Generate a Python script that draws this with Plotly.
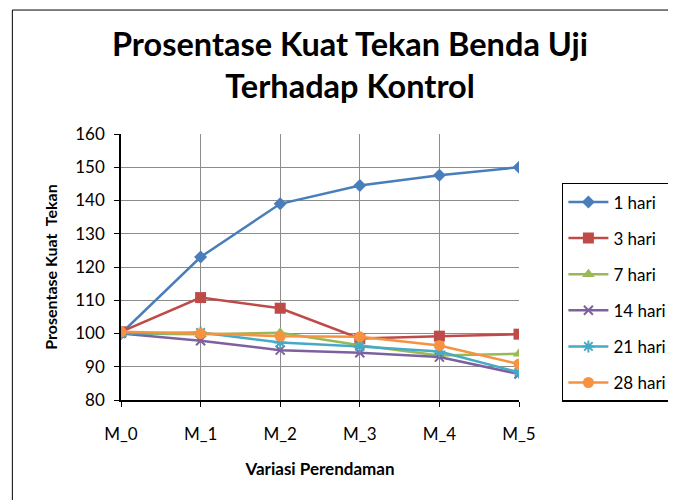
import plotly.graph_objects as go

categories = ["M_0", "M_1", "M_2", "M_3", "M_4", "M_5"]
series_names = ["1 hari", "3 hari", "7 hari", "14 hari", "21 hari", "28 hari"]
hari_1 = [100.0, 123.0, 139.0, 144.5, 147.6, 150.0]
hari_3 = [100.5, 110.8, 107.6, 98.5, 99.2, 99.8]
hari_7 = [100.0, 99.8, 100.2, 96.5, 93.4, 93.9]
hari_14 = [100.0, 97.8, 95.0, 94.2, 92.9, 87.8]
hari_21 = [100.0, 100.3, 97.3, 96.1, 94.6, 88.3]
hari_28 = [100.5, 100.0, 99.2, 99.0, 96.4, 90.8]
y_ticks = [80, 90, 100, 110, 120, 130, 140, 150, 160]

values = [hari_1, hari_3, hari_7, hari_14, hari_21, hari_28]
colors = ["#4A7EBB", "#BE4B48", "#98B954", "#7D60A0", "#46AAC5", "#F69240"]
symbols = ["diamond", "square", "triangle-up", "x-thin-open", "asterisk-open", "circle"]
sizes = [10, 11, 11, 9, 10, 11]

fig = go.Figure()
for i, (name, vals) in enumerate(zip(series_names, values)):
    fig.add_trace(go.Scatter(
        x=list(range(len(categories))), y=vals, name=name, mode="lines+markers",
        legendgroup=name,
        line=dict(color=colors[i], width=2.5),
        marker=dict(symbol=symbols[i], size=sizes[i], color=colors[i],
                    line=dict(color=colors[i], width=2 if i in (3, 4) else 0)),
    ))

font_family = "Lato, 'Open Sans', sans-serif"
fig.update_layout(
    width=676, height=500,
    margin=dict(l=113, r=164, t=126, b=108),
    paper_bgcolor="white", plot_bgcolor="white",
    font=dict(family=font_family, color="black", size=17),
    title=dict(text="<b>Prosentase Kuat Tekan Benda Uji<br>Terhadap Kontrol</b>",
               x=0.506, xanchor="center", y=0.904, yanchor="middle",
               font=dict(size=32.5, family=font_family)),
    xaxis=dict(tickmode="array", tickvals=list(range(len(categories))), ticktext=categories,
               range=[0, 5], showgrid=True, gridcolor="#8c8c8c", gridwidth=1,
               showline=True, linecolor="black", linewidth=1.5,
               ticks="outside", ticklen=5, tickcolor="black", zeroline=False,
               ticklabelstandoff=13,
               title=dict(text="<b>Variasi Perendaman</b>", font=dict(size=17), standoff=20)),
    yaxis=dict(tickvals=y_ticks, range=[80, 160], showgrid=True, gridcolor="#8c8c8c", gridwidth=1,
               showline=True, linecolor="black", linewidth=1.5,
               ticks="outside", ticklen=5, tickcolor="black", zeroline=False,
               ticklabelstandoff=6,
               title=dict(text="<b>Prosentase Kuat  Tekan</b>", font=dict(size=16), standoff=14)),
    legend=dict(x=1.105, y=0.816, xanchor="left", yanchor="top",
                bordercolor="black", borderwidth=1.5, bgcolor="white",
                traceorder="grouped", tracegroupgap=11,
                font=dict(size=17), itemwidth=40),
    shapes=[dict(type="rect", xref="paper", yref="paper",
                 x0=-0.273, x1=1.6, y0=-0.6, y1=1.466,
                 line=dict(color="black", width=1), layer="below")],
)

fig.write_html("out.html")
